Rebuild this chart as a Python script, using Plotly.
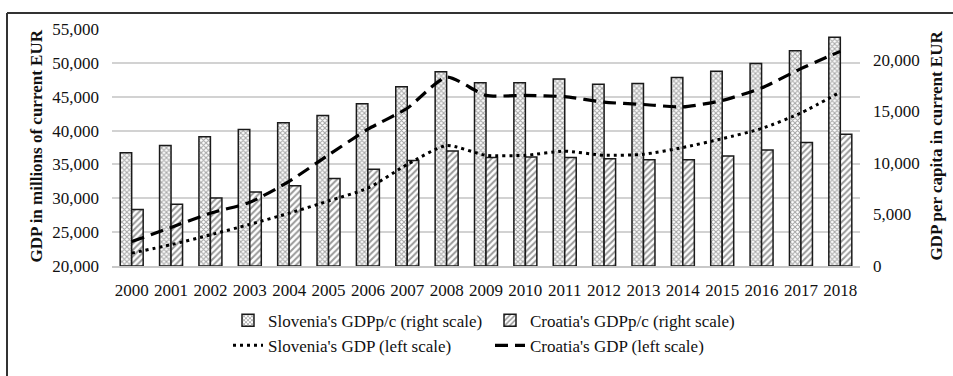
import plotly.graph_objects as go

# Years on the category axis
years = [str(y) for y in range(2000, 2019)]

# GDP per capita, current EUR (right scale, bars)
slovenia_gdp_pc = [11000, 11700, 12550, 13250, 13900, 14600, 15750, 17400, 18850,
                   17780, 17780, 18150, 17650, 17700, 18300, 18900, 19650, 20880, 22200]
croatia_gdp_pc = [5480, 6000, 6600, 7190, 7800, 8500, 9380, 10230, 11170,
                  10530, 10590, 10530, 10410, 10320, 10320, 10680, 11260, 11990, 12790]

# GDP, millions of current EUR (left scale, lines)
slovenia_gdp = [21900, 23150, 24600, 26150, 27800, 29600, 31500, 35000, 37800,
                36350, 36350, 36950, 36350, 36500, 37500, 38800, 40300, 42600, 45700]
croatia_gdp = [23600, 25700, 27800, 29400, 32500, 36400, 40200, 43300, 47900,
               45200, 45200, 45000, 44200, 43850, 43500, 44450, 46300, 49150, 51700]

FONT = "Liberation Serif"
W, H = 953, 376
L, R, T, B = 112, 93, 29, 95
plot_w = W - L - R
plot_h = H - T - B


def px_x(px):
    return (px - L) / plot_w


def px_y(py):
    return (H - B - py) / plot_h


fig = go.Figure()

fig.add_trace(go.Bar(
    x=years, y=slovenia_gdp_pc, name="Slovenia's GDPp/c (right scale)",
    yaxis="y",
    marker=dict(color="white", line=dict(color="#1a1a1a", width=1.5),
                pattern=dict(shape="x", size=3.5, solidity=0.5,
                             fgcolor="#4a4a4a", bgcolor="white")),
))
fig.add_trace(go.Bar(
    x=years, y=croatia_gdp_pc, name="Croatia's GDPp/c (right scale)",
    yaxis="y",
    marker=dict(color="white", line=dict(color="#1a1a1a", width=1.5),
                pattern=dict(shape="/", size=4.5, solidity=0.45,
                             fgcolor="#333333", bgcolor="white")),
))
fig.add_trace(go.Scatter(
    x=years, y=slovenia_gdp, name="Slovenia's GDP (left scale)",
    yaxis="y2", mode="lines",
    line=dict(color="black", width=3, dash="3px,4px", shape="spline", smoothing=0.6),
))
fig.add_trace(go.Scatter(
    x=years, y=croatia_gdp, name="Croatia's GDP (left scale)",
    yaxis="y2", mode="lines",
    line=dict(color="black", width=3.2, dash="13px,7px", shape="spline", smoothing=0.6),
))

tick_font = dict(family=FONT, size=17, color="#111111")

fig.update_layout(
    width=W, height=H,
    margin=dict(l=L, r=R, t=T, b=B),
    paper_bgcolor="white", plot_bgcolor="white",
    barmode="group", bargap=0.416, bargroupgap=0,
    showlegend=True,
    legend=dict(
        orientation="h", x=px_x(228), y=px_y(320), xanchor="left", yanchor="top",
        font=dict(family=FONT, size=17, color="#111111"),
        entrywidth=217, entrywidthmode="pixels",
        bgcolor="rgba(0,0,0,0)", traceorder="normal",
    ),
    xaxis=dict(
        type="category", showgrid=False, ticks="", tickfont=tick_font,
        showline=True, linecolor="#c8c8c8", linewidth=1.5,
        ticklabelstandoff=8,
    ),
    # bars: right-hand scale
    yaxis=dict(
        side="right", range=[0, 23000], tickvals=[0, 5000, 10000, 15000, 20000],
        tickformat=",", showgrid=False, zeroline=False, ticks="",
        tickfont=tick_font, ticklabelstandoff=12,
    ),
    # lines: left-hand scale with gridlines
    yaxis2=dict(
        side="left", overlaying="y", range=[20000, 55000], dtick=5000,
        tickformat=",", showgrid=True, gridcolor="#d2d2d2", gridwidth=1.5,
        zeroline=False, ticks="", tickfont=tick_font, ticklabelstandoff=12,
    ),
    annotations=[
        dict(text="<b>GDP in millions of current EUR</b>", textangle=-90,
             xref="paper", yref="paper", x=px_x(37), y=px_y(154),
             xanchor="center", yanchor="middle", showarrow=False,
             font=dict(family=FONT, size=17, color="#111111")),
        dict(text="<b>GDP per capita in current EUR</b>", textangle=-90,
             xref="paper", yref="paper", x=px_x(937), y=px_y(153),
             xanchor="center", yanchor="middle", showarrow=False,
             font=dict(family=FONT, size=17, color="#111111")),
    ],
    # frame around the chart: top and left edges
    shapes=[
        dict(type="line", xref="paper", yref="paper",
             x0=px_x(7), x1=px_x(W + 40), y0=px_y(12), y1=px_y(12),
             line=dict(color="#333333", width=2), layer="above"),
        dict(type="line", xref="paper", yref="paper",
             x0=px_x(7), x1=px_x(7), y0=px_y(12), y1=px_y(H + 40),
             line=dict(color="#333333", width=2), layer="above"),
    ],
)

fig.write_html("out.html")
